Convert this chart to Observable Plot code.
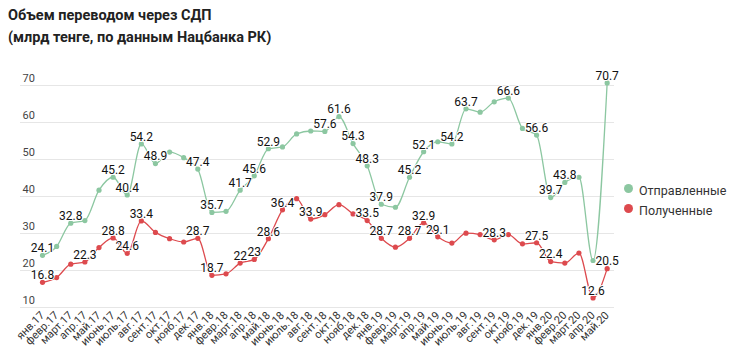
<!DOCTYPE html>
<html>
<head>
<meta charset="utf-8">
<script src="https://cdn.jsdelivr.net/npm/d3@7"></script>
<script src="https://cdn.jsdelivr.net/npm/@observablehq/plot@0.6"></script>
<style>
  html, body { margin: 0; padding: 0; background: #fff; }
  body { width: 730px; height: 350px; position: relative; overflow: hidden; font-family: Roboto, "Noto Sans", sans-serif; }
  #title { position: absolute; left: 8px; top: 5px; font-size: 14.5px; font-weight: 700; line-height: 22px; color: #222; }
  #chart { position: absolute; left: 0; top: 50px; }
  #legend { position: absolute; left: 624px; top: 180px; font-size: 12.5px; color: #333; }
  #legend .item { display: flex; align-items: center; height: 20px; }
  #legend .dot { width: 9px; height: 9px; border-radius: 50%; margin-right: 6px; position: relative; top: -2px; }
</style>
</head>
<body>
<div id="title">Объем переводом через СДП<br>(млрд тенге, по данным Нацбанка РК)</div>
<div id="chart"></div>
<div id="legend"></div>
<script>
const months = ["янв.17","февр.17","март.17","апр.17","май.17","июнь.17","июль.17","авг.17","сент.17","окт.17","нояб.17","дек.17",
  "янв.18","февр.18","март.18","апр.18","май.18","июнь.18","июль.18","авг.18","сент.18","окт.18","нояб.18","дек.18",
  "янв.19","февр.19","март.19","апр.19","май.19","июнь.19","июль.19","авг.19","сент.19","окт.19","нояб.19","дек.19",
  "янв.20","февр.20","март.20","апр.20","май.20"];
const sent = [24.1,26.5,32.8,33.5,41.7,45.2,40.4,54.2,48.9,52.0,50.5,47.4,
  35.7,36.0,41.7,45.6,52.9,53.4,56.9,57.7,57.6,61.6,54.3,48.3,
  37.9,37.1,45.2,52.1,54.8,54.2,63.7,62.8,65.6,66.6,58.4,56.6,
  39.7,43.8,45.2,22.7,70.7];
const received = [16.8,18.1,21.7,22.3,26.2,28.8,24.6,33.4,30.3,28.6,27.7,28.7,
  18.7,19.1,22,23,28.6,36.4,39.4,33.9,35.1,37.8,35.3,33.5,
  28.7,26.3,28.7,32.9,29.1,27.4,30.1,29.7,28.3,29.7,27.2,27.5,
  22.4,22.0,24.7,12.6,20.5];
const sentLabels = [0,2,5,6,7,8,11,12,14,15,16,20,21,22,23,24,26,27,29,30,33,35,36,37,40];
const receivedLabels = [0,3,5,6,7,11,12,14,15,16,17,19,23,24,26,27,28,32,35,36,39,40];
const yTicks = [10,20,30,40,50,60,70];
const seriesNames = ["Отправленные","Полученные"];
const colors = ["#8cc7a1","#dd4a4e"];

const data = [];
months.forEach((m, i) => {
  data.push({i, series: seriesNames[0], value: sent[i]});
  data.push({i, series: seriesNames[1], value: received[i]});
});
const labelData = [
  ...sentLabels.map(i => ({i, series: seriesNames[0], value: sent[i]})),
  ...receivedLabels.map(i => ({i, series: seriesNames[1], value: received[i]}))
];

const plot = Plot.plot({
  width: 730,
  height: 300,
  marginLeft: 20,
  marginRight: 116,
  marginTop: 35,
  marginBottom: 43,
  style: {fontFamily: "Roboto, sans-serif", background: "transparent"},
  x: {type: "linear", domain: [-1.56, 40.52], axis: null, label: null},
  y: {domain: [10, 70], axis: null, label: null},
  color: {domain: seriesNames, range: colors},
  marks: [
    Plot.ruleY(yTicks, {stroke: "#e6e6e6", strokeWidth: 1}),
    Plot.text(yTicks, {y: d => d, text: d => String(d), frameAnchor: "left", textAnchor: "start", dx: 2, dy: -7, fontSize: 11, fill: "#444"}),
    Plot.axisX({ticks: d3.range(months.length), tickFormat: i => months[i], label: null, tickRotate: -45, tickSize: 0, tickPadding: 6, fontSize: 11, color: "#333"}),
    Plot.line(data, {x: "i", y: "value", z: "series", stroke: "series", strokeWidth: 1.3, curve: "monotone-x"}),
    Plot.dot(data, {x: "i", y: "value", fill: "series", r: 2.6}),
    Plot.text(labelData, {x: "i", y: "value", text: d => String(d.value), dy: -7, fontSize: 12, fill: "#111", stroke: "white", strokeWidth: 2, paintOrder: "stroke"})
  ]
});
document.getElementById("chart").appendChild(plot);

const legend = document.getElementById("legend");
seriesNames.forEach((name, k) => {
  const item = document.createElement("div");
  item.className = "item";
  item.innerHTML = `<span class="dot" style="background:${colors[k]}"></span><span>${name}</span>`;
  legend.appendChild(item);
});
</script>
</body>
</html>
